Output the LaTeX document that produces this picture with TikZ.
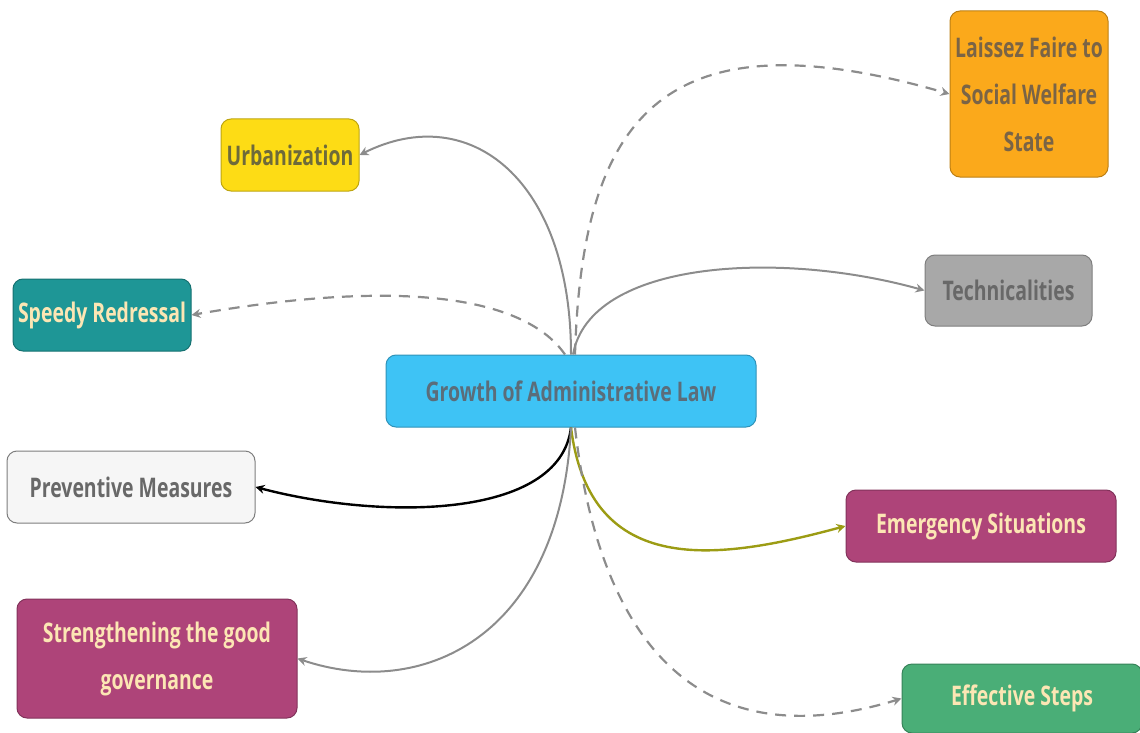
\documentclass[tikz,border=0pt]{standalone}
\usepackage{fontspec}
\setmainfont{Open Sans}[FakeStretch=0.72]
\usetikzlibrary{arrows.meta}
\definecolor{linegray}{HTML}{8C8C8C}
\definecolor{cBlue}{HTML}{3EC3F5}
\definecolor{cYellow}{HTML}{FDDC15}
\definecolor{cOrange}{HTML}{FBA91B}
\definecolor{cTeal}{HTML}{1E9696}
\definecolor{cGray}{HTML}{A8A8A8}
\definecolor{cWhite}{HTML}{F6F6F6}
\definecolor{cMagenta}{HTML}{AE4479}
\definecolor{cGreen}{HTML}{4AAE77}
\definecolor{cOlive}{HTML}{9C9C14}
\definecolor{tCream}{HTML}{FCE6B4}
\definecolor{tSlate}{HTML}{5B6D7A}
\definecolor{tOlive}{HTML}{6E6A3A}
\definecolor{tBrown}{HTML}{7A6446}
\definecolor{tDark}{HTML}{686868}
\tikzset{
  box/.style={rounded corners=10pt, draw=#1!75!black, line width=1pt, inner sep=0pt,
    align=center, font=\bfseries\fontsize{27}{47}\selectfont},
  conn/.style={line width=2pt, linegray, -{Stealth[length=9pt,width=9pt,inset=3pt]}},
  dconn/.style={conn, line width=2.2pt, dash pattern=on 11pt off 8pt},
}
\begin{document}
\begin{tikzpicture}[x=1pt,y=-1pt]
\useasboundingbox (0,0) rectangle (1140,733);
% topic boxes
\node[box=cBlue, fill=cBlue, text=tSlate, minimum width=370, minimum height=72] (c) at (571,391) {Growth of Administrative Law};
\node[box=cYellow, fill=cYellow, text=tOlive, minimum width=138, minimum height=72] (urb) at (290,155) {Urbanization};
\node[box=cOrange, fill=cOrange, text=tBrown, minimum width=158, minimum height=166] (lf) at (1029,94) {Laissez Faire to\\Social Welfare\\State};
\node[box=cTeal, fill=cTeal, text=tCream, minimum width=178, minimum height=72] (sr) at (102,315) {Speedy Redressal};
\node[box=cGray, fill=cGray, text=tDark, minimum width=167, minimum height=71] (tech) at (1008.5,290.5) {Technicalities};
\node[box=cGray, fill=cWhite, text=tDark, minimum width=248, minimum height=72] (pm) at (131,487) {Preventive Measures};
\node[box=cMagenta, fill=cMagenta, text=tCream, minimum width=270, minimum height=72] (em) at (981,526) {Emergency Situations};
\node[box=cMagenta, fill=cMagenta, text=tCream, minimum width=280, minimum height=119] (st) at (157,658.5) {Strengthening the good\\governance};
\node[box=cGreen, fill=cGreen, text=tCream, minimum width=240, minimum height=69] (ef) at (1022,698.5) {Effective Steps};
% connectors from the central topic
\draw[conn] (c.north) .. controls (571,180) and (470,100) .. (urb.east);
\draw[dconn] ([xshift=4pt]c.north) .. controls (582,120) and (660,10) .. (lf.west);
\draw[dconn] ([xshift=-6pt]c.north) .. controls (520,290) and (380,282) .. (sr.east);
\draw[conn] ([xshift=2pt]c.north) .. controls (590,260) and (780,250) .. (tech.west);
\draw[conn, black, line width=2.4pt] (c.south) .. controls (560,520) and (380,520) .. (pm.east);
\draw[conn, cOlive, line width=2.4pt] (c.south) .. controls (590,580) and (720,560) .. (em.west);
\draw[conn] (c.south) .. controls (560,640) and (420,700) .. (st.east);
\draw[dconn] ([xshift=4pt]c.south) .. controls (600,645) and (700,760) .. (ef.west);
\end{tikzpicture}
\end{document}
